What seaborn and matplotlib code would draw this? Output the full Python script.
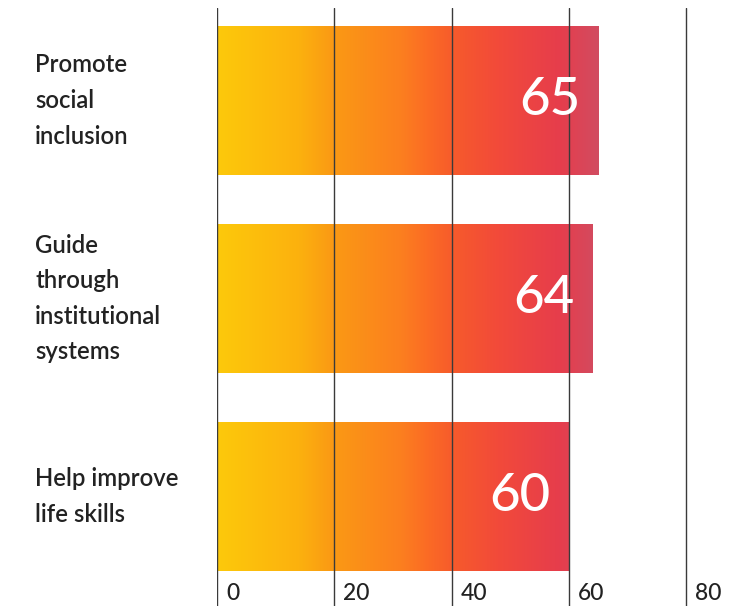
import numpy as np
import pandas as pd
import matplotlib
matplotlib.use("Agg")
import matplotlib.pyplot as plt
from matplotlib.colors import LinearSegmentedColormap
from matplotlib import transforms
import seaborn as sns

categories = ["Promote\nsocial\ninclusion",
              "Guide\nthrough\ninstitutional\nsystems",
              "Help improve\nlife skills"]
values = [65, 64, 60]
x_ticks = [0, 20, 40, 60, 80]

df = pd.DataFrame({"category": categories, "value": values})

sns.set_theme(style="white")
plt.rcParams["font.family"] = ["Lato", "DejaVu Sans"]

W, H = 750, 606
fig = plt.figure(figsize=(W / 100, H / 100), dpi=100)
x0_px, x80_px = 217, 686
top_px, bot_px = 8, 606
px_per_unit = (x80_px - x0_px) / 80.0
ax = fig.add_axes([x0_px / W, 1 - bot_px / H, (W - x0_px) / W, (bot_px - top_px) / H])
xmax = (W - x0_px) / px_per_unit

sns.barplot(data=df, y="category", x="value", orient="h", ax=ax,
            width=0.75, color="#f5a623", edgecolor="none", linewidth=0)

# bar spacing 198px, first center at 100.5px
step, c0 = 198.0, 100.5
ylim = ((bot_px - c0) / step, (top_px - c0) / step)

# horizontal gradient in data space, yellow -> orange -> red -> mauve
grad_colors = [(0.00, "#fdc90b"), (0.20, "#fcb10e"), (0.28, "#fa9a14"),
               (0.45, "#fc7f1f"), (0.52, "#fb6a25"), (0.58, "#f65a2c"),
               (0.69, "#f24a3a"), (0.84, "#e63d4c"), (0.94, "#d04d62"),
               (1.00, "#c65a70")]
cmap = LinearSegmentedColormap.from_list("warm", grad_colors)
grad_max = 69.6
grad = np.linspace(0, 1, 512).reshape(1, -1)
for patch in ax.patches:
    y = patch.get_y()
    h = patch.get_height()
    im = ax.imshow(grad, cmap=cmap, aspect="auto",
                   extent=[0, grad_max, y + h, y], zorder=2, interpolation="bilinear")
    im.set_clip_path(patch)
    patch.set_facecolor("none")
ax.set_xlim(0, xmax)
ax.set_ylim(*ylim)

# value labels inside bar ends
for i, v in enumerate(values):
    ax.annotate(str(v), xy=(v, i), xytext=(-13, 0), textcoords="offset points",
                ha="right", va="center", color="white", fontsize=38,
                fontweight="medium", zorder=5)

# vertical gridlines drawn over the bars
for t in x_ticks:
    ax.axvline(t, color="#3a3a3a", lw=1.0, zorder=4)

# tick labels at the bottom, right of each line
trans = transforms.blended_transform_factory(ax.transData, ax.transAxes)
for t in x_ticks:
    ax.annotate(str(t), xy=(t, (bot_px - 593) / (bot_px - top_px)), xycoords=trans,
                xytext=(6.5, 0), textcoords="offset points",
                ha="left", va="center", fontsize=16.5, color="#222222",
                fontweight="medium")

# category labels, left aligned
ltrans = transforms.blended_transform_factory(fig.transFigure, ax.transData)
for i, c in enumerate(categories):
    ax.text(35 / W, i, c, transform=ltrans, ha="left", va="center",
            fontsize=17.2, color="#222222", linespacing=1.66, fontweight="semibold")

ax.set_xticks([])
ax.set_yticks([])
ax.set_xlabel("")
ax.set_ylabel("")
for s in ax.spines.values():
    s.set_visible(False)

fig.savefig("out.png", dpi=100)
